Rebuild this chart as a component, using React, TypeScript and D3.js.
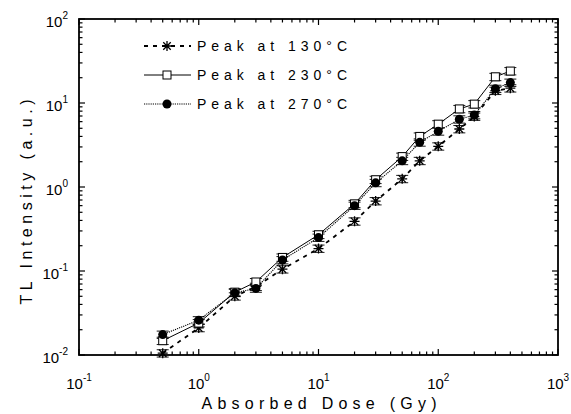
import React from "react";
import * as d3 from "d3";

const doses = [0.5, 1, 2, 3, 5, 10, 20, 30, 50, 70, 100, 150, 200, 300, 400];
const peak130 = [0.0105, 0.021, 0.05, 0.065, 0.105, 0.185, 0.39, 0.68, 1.25, 2.05, 3.05, 4.9, 6.9, 14, 15];
const peak230 = [0.0148, 0.024, 0.056, 0.074, 0.145, 0.27, 0.63, 1.22, 2.3, 4.0, 5.6, 8.5, 9.7, 20.5, 24];
const peak270 = [0.0175, 0.026, 0.055, 0.062, 0.135, 0.25, 0.6, 1.12, 2.05, 3.4, 4.6, 6.4, 7.2, 14.8, 17.5];
const seriesNames = ["Peak at 130°C", "Peak at 230°C", "Peak at 270°C"];
const xExponents = [-1, 0, 1, 2, 3];
const yExponents = [-2, -1, 0, 1, 2];
const relError = 0.1;

const W = 571, H = 414;
const L = 79, R = 558, T = 19, B = 355;
const FONT = "'Liberation Sans', Arial, sans-serif";

export default function App() {
  const x = d3.scaleLog().domain([0.1, 1000]).range([L, R]);
  const y = d3.scaleLog().domain([0.01, 100]).range([B, T]);
  const line = d3.line<[number, number]>().x(d => x(d[0])).y(d => y(d[1]));
  const seriesVals = [peak130, peak230, peak270];
  const styles = [
    { dash: "4,5", width: 1.8 },
    { dash: "none", width: 1 },
    { dash: "1.2,1", width: 1.1 },
  ];
  const isMajor = (v: number) => Math.abs(Math.log10(v) - Math.round(Math.log10(v))) < 1e-9;
  const xt = x.ticks();
  const yt = y.ticks();

  const star = (cx: number, cy: number, r: number) =>
    `M${cx},${cy - r}L${cx},${cy + r}M${cx - r},${cy}L${cx + r},${cy}` +
    `M${cx - r * 0.75},${cy - r * 0.75}L${cx + r * 0.75},${cy + r * 0.75}` +
    `M${cx - r * 0.75},${cy + r * 0.75}L${cx + r * 0.75},${cy - r * 0.75}`;

  const marker = (i: number, cx: number, cy: number, key: string) => {
    if (i === 0) return <path key={key} d={star(cx, cy, 5)} stroke="#000" strokeWidth={1.3} fill="none" />;
    if (i === 1) return <rect key={key} x={cx - 4} y={cy - 4} width={8} height={8} fill="#fff" stroke="#000" strokeWidth={1} />;
    return <circle key={key} cx={cx} cy={cy} r={4.5} fill="#000" />;
  };

  return (
    <svg width={W} height={H} style={{ position: "absolute", left: 0, top: 0, background: "#fff" }} fontFamily={FONT}>
      <rect x={0} y={0} width={W} height={H} fill="#fff" />
      {seriesVals.map((vals, i) => (
        <path key={"l" + i} d={line(doses.map((d, j) => [d, vals[j]]) as [number, number][]) || ""}
          fill="none" stroke="#000" strokeWidth={styles[i].width} strokeDasharray={styles[i].dash} />
      ))}
      {seriesVals.map((vals, i) => doses.map((d, j) => {
        const cx = x(d);
        const y1 = y(vals[j] * (1 + relError));
        const y0 = y(vals[j] * (1 - relError));
        return (
          <g key={"e" + i + "-" + j} stroke="#000" strokeWidth={0.9}>
            <line x1={cx} x2={cx} y1={y0} y2={y1} />
            <line x1={cx - 6} x2={cx + 6} y1={y0} y2={y0} />
            <line x1={cx - 6} x2={cx + 6} y1={y1} y2={y1} />
          </g>
        );
      }))}
      {seriesVals.map((vals, i) => doses.map((d, j) => marker(i, x(d), y(vals[j]), "m" + i + "-" + j)))}
      <rect x={L} y={T} width={R - L} height={B - T} fill="none" stroke="#000" strokeWidth={1.8} />
      {xt.map((v, k) => {
        const len = isMajor(v) ? 6 : 3.5;
        const px = x(v);
        return (
          <g key={"xt" + k} stroke="#000" strokeWidth={1.2}>
            <line x1={px} x2={px} y1={B} y2={B - len} />
            <line x1={px} x2={px} y1={T} y2={T + len} />
          </g>
        );
      })}
      {yt.map((v, k) => {
        const len = isMajor(v) ? 6 : 3.5;
        const py = y(v);
        return (
          <g key={"yt" + k} stroke="#000" strokeWidth={1.2}>
            <line x1={L} x2={L + len} y1={py} y2={py} />
            <line x1={R} x2={R - len} y1={py} y2={py} />
          </g>
        );
      })}
      {xExponents.map(e => (
        <text key={"xl" + e} x={x(Math.pow(10, e))} y={389} textAnchor="middle" fontSize={15} fill="#000">
          10<tspan dy={-8} fontSize={10}>{e}</tspan>
        </text>
      ))}
      {yExponents.map(e => (
        <text key={"yl" + e} x={68} y={y(Math.pow(10, e)) + 8} textAnchor="end" fontSize={15} fill="#000">
          10<tspan dy={-8} fontSize={10}>{e}</tspan>
        </text>
      ))}
      <text x={319} y={409} textAnchor="middle" fontSize={16} textLength={235} lengthAdjust="spacing" fill="#000">
        Absorbed Dose (Gy)
      </text>
      <text transform="translate(32,202) rotate(-90)" textAnchor="middle" fontSize={16} textLength={205} lengthAdjust="spacing" fill="#000">
        TL Intensity (a.u.)
      </text>
      {seriesNames.map((name, i) => {
        const ly = 46 + i * 29;
        return (
          <g key={"lg" + i}>
            <line x1={144} x2={191} y1={ly} y2={ly} stroke="#000" strokeWidth={styles[i].width} strokeDasharray={styles[i].dash} />
            {marker(i, 167, ly, "lm" + i)}
            <text x={197} y={ly + 5} fontSize={14} textLength={150} lengthAdjust="spacing" fill="#000">{name}</text>
          </g>
        );
      })}
    </svg>
  );
}
